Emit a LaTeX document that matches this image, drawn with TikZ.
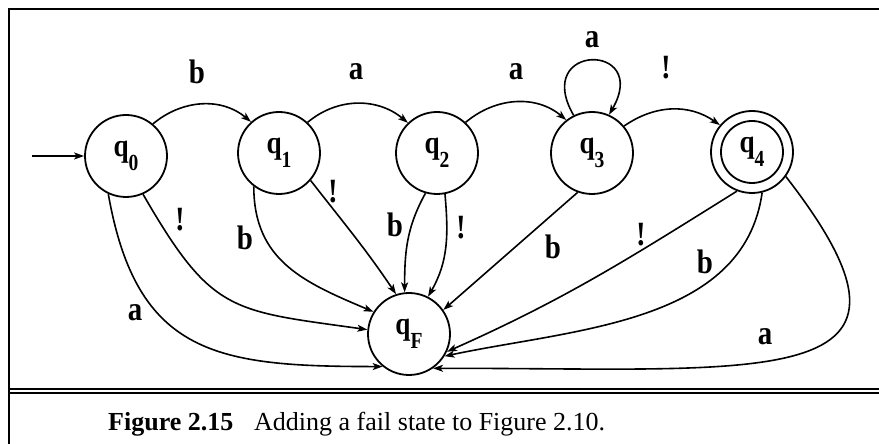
\documentclass[tikz,border=0pt]{standalone}
\usepackage{fontspec}
\setmainfont{Liberation Serif}
\newfontfamily\lblfont[FakeStretch=0.85]{Liberation Serif}
\usetikzlibrary{arrows.meta}
\tikzset{
  state/.style={circle, draw, line width=1.8pt, minimum size=82pt, inner sep=0pt,
    font=\lblfont\bfseries\fontsize{32}{32}\selectfont},
  edge/.style={line width=1.6pt, -{Stealth[length=10pt,width=7pt,inset=2.5pt]}},
  lbl/.style={inner sep=0pt, font=\lblfont\bfseries\fontsize{34}{34}\selectfont},
  frameline/.style={line width=2pt},
}
\newcommand{\qsub}[1]{q\raisebox{-14pt}{\fontsize{23}{23}\selectfont #1}}
\begin{document}
\begin{tikzpicture}[x=1pt,y=1pt]
\useasboundingbox (0,0) rectangle (879,444);
% frame
\draw[frameline] (8.5,0) -- (8.5,434.5) -- (885,434.5);
\draw[frameline] (8.5,54.8) -- (885,54.8);
\draw[frameline] (8.5,51) -- (885,51);
% states
\node[state] (q0) at (126,288) {\qsub{0}};
\node[state] (q1) at (279,291) {\qsub{1}};
\node[state] (q2) at (437,291) {\qsub{2}};
\node[state] (q3) at (592,291) {\qsub{3}};
\node[state] (q4) at (752,292) {\qsub{4}};
\node[state] (qF) at (409,110) {\qsub{F}};
\draw[line width=1.8pt] (q4.center) circle (31pt);
\coordinate (init) at (32,288);
% edges
\draw[edge] (init) -- (q0);
\draw[edge] (q0.50) to[out=40,in=140] (q1.132);
\draw[edge] (q1.47) to[out=40,in=140] (q2.134);
\draw[edge] (q2.47) to[out=40,in=140] (q3.128);
\draw[edge] (q3.40) to[out=35,in=145] (q4.140);
\draw[edge] (q3.116) .. controls +(120:84) and +(60:84) .. (q3.66);
\draw[edge] (q0.245) to[out=-80,in=180,looseness=1.3] (qF.231);
\draw[edge] (q0.-66) to[out=-60,in=172,looseness=1.35] (qF.174);
\draw[edge] (q1.233) to[out=-90,in=157,looseness=1.1] (qF.148);
\draw[edge] (q1.-41) to[out=-52,in=124] (qF.108);
\draw[edge] (q2.254) to[out=-119,in=90] (qF.96);
\draw[edge] (q2.-79) to[out=-85,in=60] (qF.63);
\draw[edge] (q3.250) -- (qF.35);
\draw[edge] (q4.249) to[out=212,in=24] (qF.-25);
\draw[edge] (q4.-76) to[out=-98,in=12,looseness=0.95] (qF.-32);
\draw[edge] (q4.-36) .. controls (955,50) and (770,76) .. (qF.-55);
% labels
\node[lbl] (l01) at (197,372) {b};
\node[lbl] (l12) at (356,372) {a};
\node[lbl] (l23) at (516,372) {a};
\node[lbl] (l33) at (592,404) {a};
\node[lbl] (l34) at (666,376) {!};
\node[lbl] (l0Fx) at (180,224) {!};
\node[lbl] (l0Fa) at (135,131) {a};
\node[lbl] (l1Fb) at (245,206) {b};
\node[lbl] (l1Fx) at (333,252) {!};
\node[lbl] (l2Fb) at (395,219) {b};
\node[lbl] (l2Fx) at (461,216) {!};
\node[lbl] (l3Fb) at (553,197) {b};
\node[lbl] (l4Fx) at (641,209) {!};
\node[lbl] (l4Fb) at (705,182) {b};
\node[lbl] (l4Fa) at (765,107) {a};
% caption
\node[anchor=base west, inner sep=0pt, font=\fontsize{26}{26}\selectfont] (capA) at (108,13) {\bfseries Figure 2.15};
\node[anchor=base west, inner sep=0pt, font=\fontsize{26}{26}\selectfont] (capB) at (254,13) {Adding a fail state to Figure 2.10.};
\end{tikzpicture}
\end{document}
